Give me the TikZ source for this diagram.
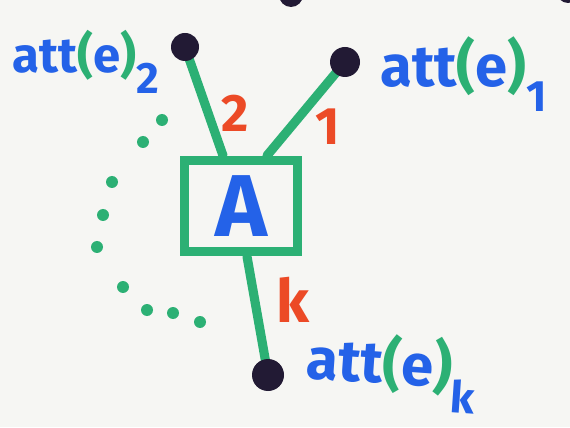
\documentclass[tikz,border=0pt]{standalone}
\usepackage{fontspec}
\setmainfont{Fira Sans}
\usepackage{tikz}
\usetikzlibrary{calc}
\usepackage{tkz-euclide}
\usepackage{xcolor}

\definecolor{inkgreen}{RGB}{44,176,116}
\definecolor{inkblue}{RGB}{36,98,232}
\definecolor{inkred}{RGB}{236,74,38}
\definecolor{inkdot}{RGB}{34,26,52}
\definecolor{paper}{RGB}{246,246,243}

% attribute label: blue letters, green brackets, lowered index
\newcommand{\attlab}[1]{\textcolor{inkblue}{att}\textcolor{inkgreen}{(}\textcolor{inkblue}{e}\textcolor{inkgreen}{)}%
  \raisebox{-.42em}{\fontsize{25}{28}\selectfont\textcolor{inkblue}{#1}}}

\begin{document}
\begin{tikzpicture}[
    edge/.style={inkgreen, line width=5.2pt, line cap=round},
    lbl/.style={font=\bfseries\fontsize{28}{32}\selectfont, inner sep=0pt},
    biglbl/.style={lbl, font=\bfseries\fontsize{33}{36}\selectfont},
    num/.style={inkred, font=\bfseries\fontsize{30}{34}\selectfont, inner sep=0pt}]
            \fill[paper] (0,0) rectangle (11.4,8.54);
            \clip (0,0) rectangle (11.4,8.54);
            \tkzDefPoints{3.7/7.6/E2, 6.9/7.3/E1, 5.36/1.04/Ek}
            \node[draw=inkgreen, line width=5.6pt, minimum width=2.26cm, minimum height=1.82cm,
                  inner sep=0pt, text=inkblue, font=\bfseries\fontsize{50}{54}\selectfont] (A) at (4.82,4.42) {A};
            \coordinate (T2) at ([xshift=-0.36cm]A.north);
            \coordinate (T1) at ([xshift=0.52cm]A.north);
            \coordinate (Bk) at ([xshift=0.12cm]A.south);
            \tkzDrawSegments[edge](E2,T2 E1,T1 Bk,Ek)
            % tentacle ends
            \foreach \p/\r in {E2/0.28, E1/0.30, Ek/0.32}
                \fill[inkdot] (\p) circle (\r);
            \fill[inkdot] (5.82,8.64) circle (0.24);
            \fill[inkdot] (11.36,8.70) circle (0.22);
            % the remaining tentacles
            \foreach \x/\y in {3.24/6.14, 2.86/5.70, 2.24/4.90, 2.06/4.24, 1.94/3.60,
                               2.46/2.80, 2.94/2.34, 3.46/2.28, 4.00/2.10}
                \fill[inkgreen] (\x,\y) circle (0.12);
            \node[num] (n2) at (4.70,6.28) {2};
            \node[num] (n1) at (6.56,6.00) {1};
            \node[num, font=\bfseries\fontsize{34}{38}\selectfont] (nk) at (5.86,2.54) {k};
            \node[lbl, anchor=base east] (L2) at (3.2,7.08) {\attlab{2}};
            \node[biglbl, anchor=base west] (L1) at (7.6,6.80) {\attlab{1}};
            \node[biglbl, anchor=base west, rotate=-4] (Lk) at (6.1,0.98) {\attlab{k}};
        \end{tikzpicture}
\end{document}
